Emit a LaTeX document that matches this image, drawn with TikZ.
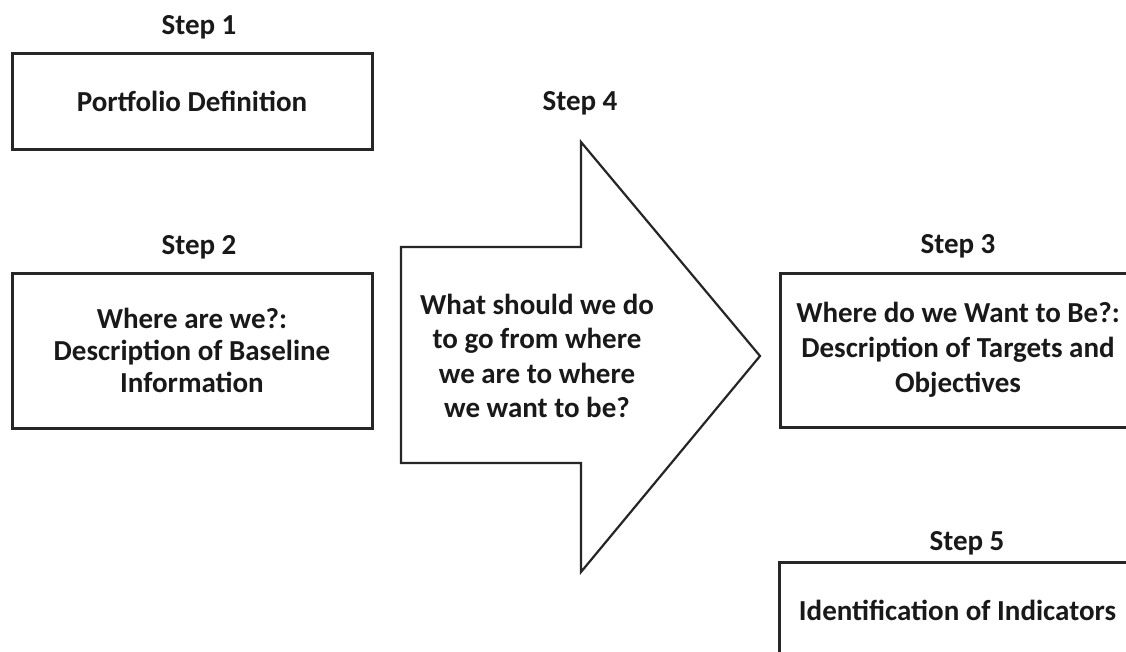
\documentclass[tikz,border=0pt]{standalone}
\usepackage{fontspec}
\setmainfont{Carlito}
\begin{document}
\begin{tikzpicture}[x=1pt,y=-1pt,
  ink/.style={draw=black!85,line width=3pt},
  stepbox/.style={ink,rectangle,inner sep=0pt,align=center,
    font=\fontsize{29}{32}\selectfont\bfseries,text=black!90},
  steplabel/.style={font=\fontsize{29}{32}\selectfont\bfseries,text=black!90},
  arrowtext/.style={align=center,font=\fontsize{29}{34.5}\selectfont\bfseries,text=black!90}]
\useasboundingbox (0,0) rectangle (1126,651);
\clip (0,0) rectangle (1126,651);
\fill[white] (0,0) rectangle (1126,651);

% left column
\node[steplabel] (s1) at (199,27) {Step 1};
\node[stepbox,minimum width=360pt,minimum height=96pt] (b1) at (192,101) {Portfolio Definition};
\node[steplabel] (s2) at (199,247) {Step 2};
\node[stepbox,minimum width=360pt,minimum height=155pt] (b2) at (192,350.5)
  {Where are we?:\\Description of Baseline\\Information};

% big arrow
\draw[draw=black!85,line width=2.2pt,line join=miter,fill=white]
  (401,247) -- (581,247) -- (581,142) -- (760,356) -- (581,572) -- (581,463) -- (401,463) -- cycle;
\node[steplabel] (s4) at (580,103) {Step 4};
\node[arrowtext] (a4) at (537,356)
  {What should we do\\to go from where\\we are to where\\we want to be?};

% right column
\node[steplabel] (s3) at (958,246) {Step 3};
\node[stepbox,minimum width=356pt,minimum height=154pt,font=\fontsize{29}{35}\selectfont\bfseries] (b3) at (958,350)
  {Where do we Want to Be?:\\Description of Targets and\\Objectives};
\node[steplabel] (s5) at (967,543) {Step 5};
\node[stepbox,minimum width=356pt,minimum height=96pt] (b5) at (957.5,610) {Identification of Indicators};
\end{tikzpicture}
\end{document}
